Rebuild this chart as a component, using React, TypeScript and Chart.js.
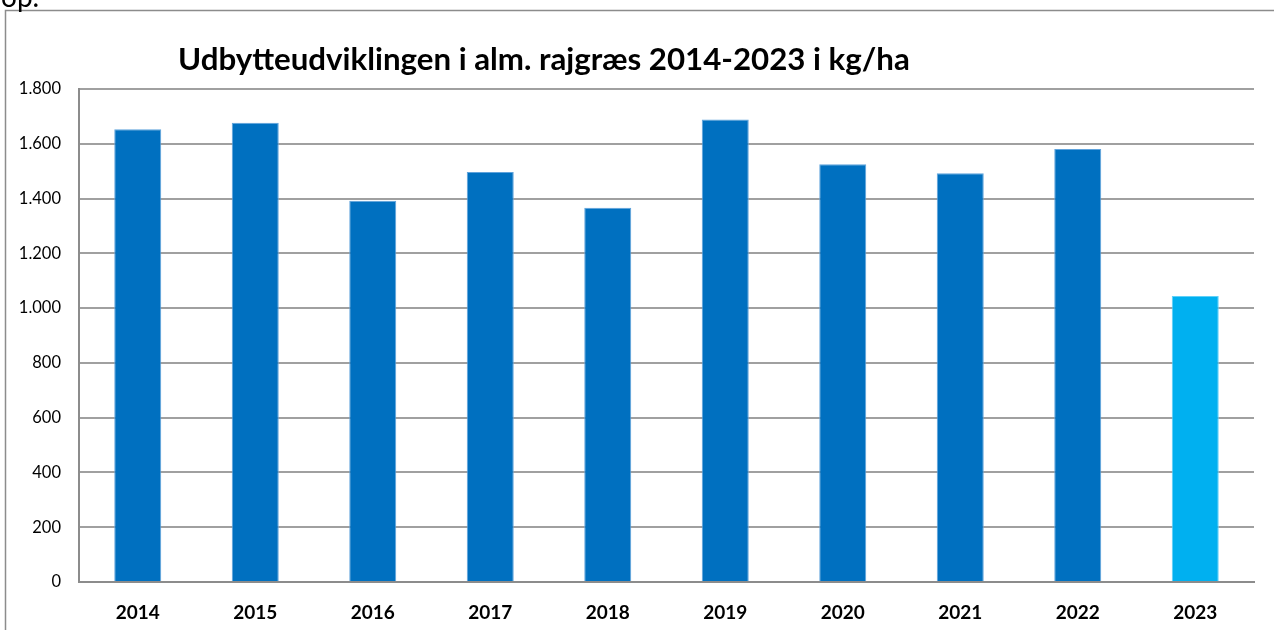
import React, { useEffect, useRef } from "react";
import { Chart, registerables } from "chart.js";

Chart.register(...registerables);

const categories = ["2014", "2015", "2016", "2017", "2018", "2019", "2020", "2021", "2022", "2023"];
const yieldValues = [1653, 1677, 1392, 1497, 1366, 1689, 1525, 1492, 1581, 1044];
const barColors = ["#0070C0", "#0070C0", "#0070C0", "#0070C0", "#0070C0", "#0070C0", "#0070C0", "#0070C0", "#0070C0", "#00B0F0"];
const barEdgeColors = ["#5fa3dc", "#5fa3dc", "#5fa3dc", "#5fa3dc", "#5fa3dc", "#5fa3dc", "#5fa3dc", "#5fa3dc", "#5fa3dc", "#5fd0f8"];
const titleText = "Udbytteudviklingen i alm. rajgræs 2014-2023 i kg/ha";
const cornerText = "op.";

const fmt = (v: number) => String(v).replace(/\B(?=(\d{3})+(?!\d))/g, ".");

const decorPlugin = {
  id: "decor",
  beforeDraw(chart: any) {
    const ctx = chart.ctx;
    ctx.save();
    ctx.fillStyle = "#ffffff";
    ctx.fillRect(0, 0, chart.width, chart.height);
    // outer frame
    ctx.strokeStyle = "#8c8c8c";
    ctx.lineWidth = 1.5;
    ctx.beginPath();
    ctx.moveTo(5.5, chart.height + 5);
    ctx.lineTo(5.5, 10.5);
    ctx.lineTo(chart.width + 5, 10.5);
    ctx.stroke();
    // corner text (cut off)
    ctx.fillStyle = "#000000";
    ctx.font = "28px Lato";
    ctx.textBaseline = "alphabetic";
    ctx.textAlign = "left";
    ctx.fillText(cornerText, 1, 7);
    // title
    ctx.font = "bold 28px Lato";
    const w = ctx.measureText(titleText).width;
    const size = (28 * 732) / w;
    ctx.font = `bold ${size.toFixed(2)}px Lato`;
    ctx.fillText(titleText, 178, 70);
    ctx.restore();
  },
};

export default function App() {
  const ref = useRef<HTMLCanvasElement | null>(null);
  useEffect(() => {
    if (!ref.current) return;
    const chart = new Chart(ref.current, {
      type: "bar",
      data: {
        labels: categories,
        datasets: [
          {
            data: yieldValues,
            backgroundColor: barColors,
            borderColor: barEdgeColors,
            borderWidth: 1,
            barPercentage: 0.4,
            categoryPercentage: 1,
          },
        ],
      },
      options: {
        animation: false,
        responsive: false,
        maintainAspectRatio: false,
        layout: { padding: { left: 0, right: 20, top: 89, bottom: 0 } },
        plugins: {
          legend: { display: false },
          title: { display: false },
          tooltip: { enabled: false },
        },
        scales: {
          x: {
            grid: { display: false, drawTicks: false },
            border: { display: true, color: "#8c8c8c", width: 2 },
            ticks: {
              color: "#000000",
              font: { family: "Lato", size: 19, weight: "bold" },
              padding: 19,
            },
            afterFit: (s: any) => {
              s.height = 48;
            },
          },
          y: {
            min: 0,
            max: 1800,
            grid: { color: "#a0a0a0", lineWidth: 2, drawTicks: false },
            border: { display: true, color: "#8c8c8c", width: 2 },
            ticks: {
              stepSize: 200,
              color: "#000000",
              font: { family: "Lato", size: 16.5 },
              padding: 18,
              callback: (v: any) => fmt(Number(v)),
            },
            afterFit: (s: any) => {
              s.width = 79;
            },
          },
        },
      },
      plugins: [decorPlugin],
    });
    return () => chart.destroy();
  }, []);
  return (
    <div style={{ position: "fixed", left: 0, top: 0, width: 1274, height: 630, background: "#fff" }}>
      <canvas ref={ref} width={1274} height={630} style={{ display: "block", width: 1274, height: 630 }} />
    </div>
  );
}
